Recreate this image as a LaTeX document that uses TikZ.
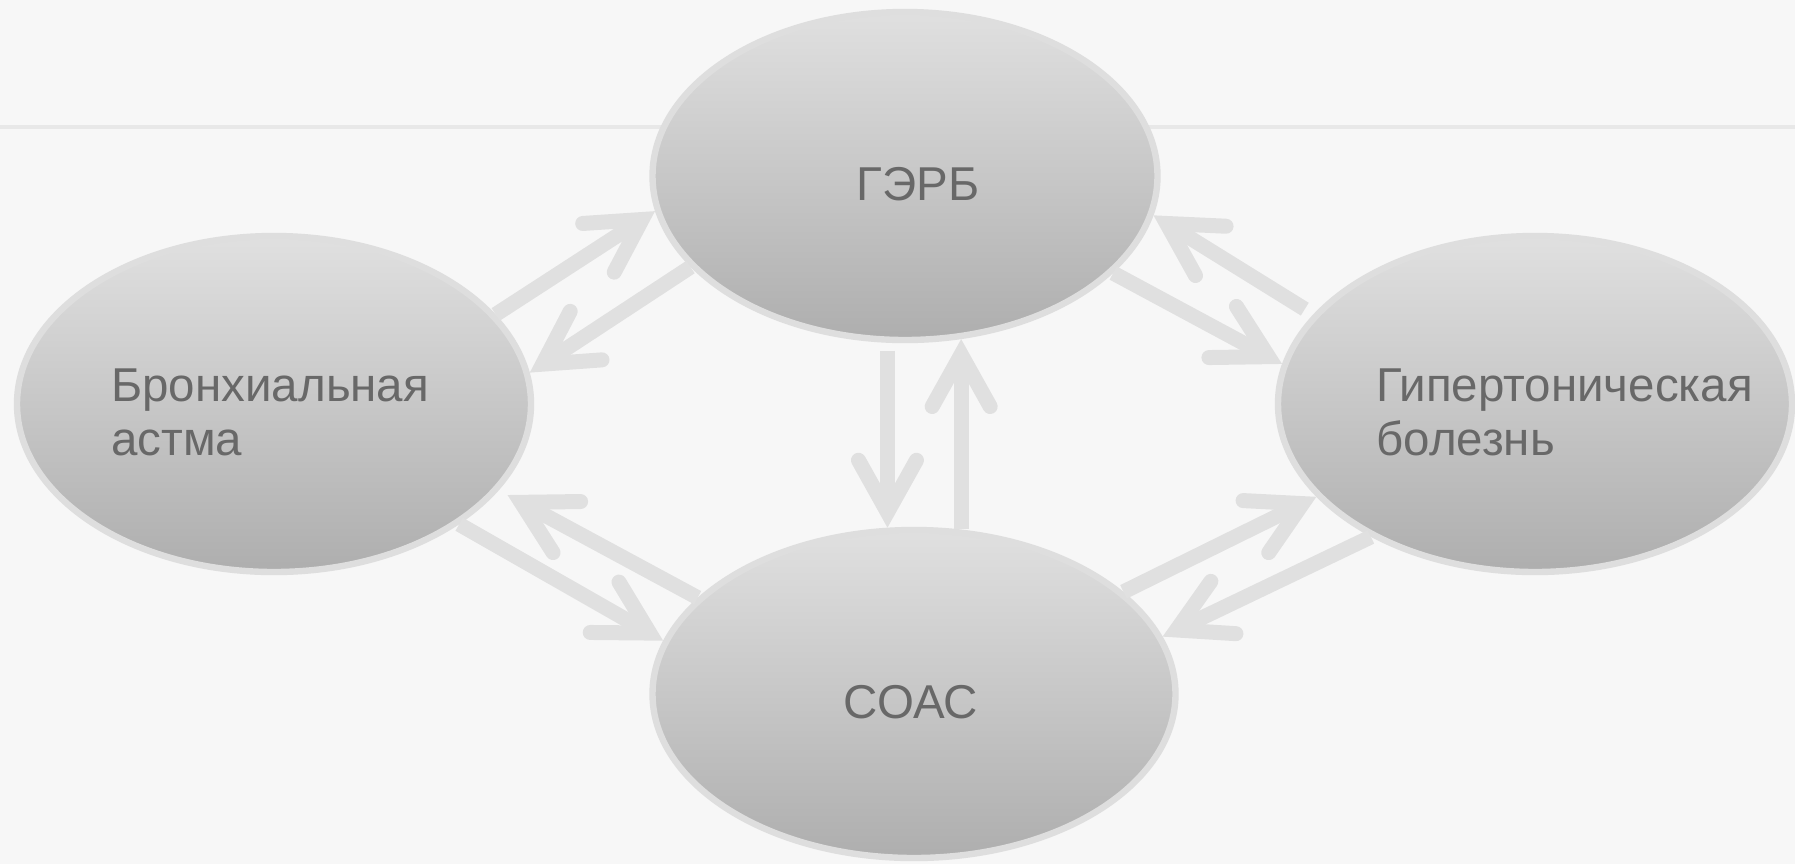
\documentclass[tikz,border=0pt]{standalone}
\usepackage{fontspec}
\setmainfont{Liberation Sans}
\usetikzlibrary{arrows.meta,shapes.geometric}

\definecolor{pagebg}{RGB}{247,247,247}
\definecolor{rule}{RGB}{232,232,232}
\definecolor{rim}{RGB}{222,222,222}
\definecolor{shadetop}{RGB}{224,224,224}
\definecolor{shadebot}{RGB}{174,174,174}
\definecolor{linkgray}{RGB}{224,224,224}
\definecolor{ink}{RGB}{104,104,104}

\begin{document}
\begin{tikzpicture}[x=0.5pt,y=-0.5pt,
  disease/.style={ellipse, draw=rim, line width=3.2pt,
    top color=shadetop, bottom color=shadebot, inner sep=0pt},
  disname/.style={text=ink, inner sep=0pt,
    font=\fontsize{23.75pt}{27pt}\selectfont},
  link/.style={draw=linkgray, line width=7.5pt,
    -{Straight Barb[length=26pt,width=29pt,line cap=round]}},
]
% page and header rule
\fill[pagebg] (0,0) rectangle (1795,864);
\useasboundingbox (0,0) rectangle (1795,864);
\draw[rule, line width=2pt] (0,127) -- (1795,127);

% the four conditions
\node[disease, minimum width=252.5pt, minimum height=164pt] (gerb)   at (905,176)  {};
\node[disease, minimum width=257pt,   minimum height=168pt] (asthma) at (274,404)  {};
\node[disease, minimum width=257pt,   minimum height=168pt] (hyper)  at (1535,404) {};
\node[disease, minimum width=261.5pt, minimum height=164pt] (soas)   at (914,694)  {};

% their names (two-line labels are placed by their last baseline)
\node[disname, anchor=base] (gerb-t) at (918,200) {ГЭРБ};
\node[disname, anchor=base] (soas-t) at (911,718) {СОАС};
\node[disname, anchor=base west, align=left] (asthma-t) at (111,455) {Бронхиальная\\астма};
\node[disname, anchor=base west, align=left] (hyper-t) at (1376,455) {Гипертоническая\\болезнь};

% mutual influences
\draw[link] (asthma.22.5) -- (gerb.188.3);
\draw[link] (gerb.203.3) -- (asthma.7.6);
\draw[link, shorten <=5pt] (hyper.158) -- (gerb.351.2);
\draw[link] (gerb.335.6) -- (hyper.171.3);
\draw[link, shorten <=4pt] (gerb.264.2) -- (gerb.264.2 |- soas.99.2);
\draw[link] (soas.74.1) -- (soas.74.1 |- gerb.289.5);
\draw[link] (asthma.327.1) -- (soas.168.6);
\draw[link, shorten >=5pt] (soas.156) -- (asthma.339.7);
\draw[link] (soas.26.1) -- (hyper.203.4);
\draw[link] (hyper.219.9) -- (soas.13.9);
\end{tikzpicture}
\end{document}
